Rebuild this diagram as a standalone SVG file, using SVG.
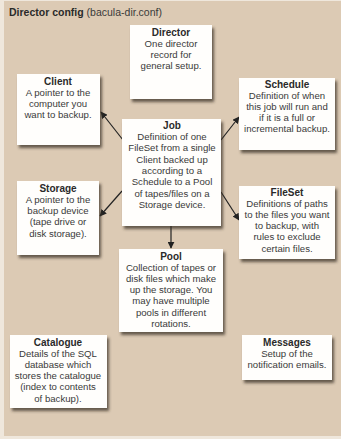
<svg xmlns="http://www.w3.org/2000/svg" width="341" height="439" viewBox="0 0 341 439">
<defs>
<style>
.bg{fill:#dccab4}
.box{fill:#fffefc;filter:url(#sh)}
text{font-family:"Liberation Sans",Arial,sans-serif;fill:#3a3a3a;text-anchor:middle}
.t{font-size:10px;font-weight:bold;fill:#2a2a2a}
.b{font-size:9.6px}
.hdr{text-anchor:start;font-size:10.5px}
.con line{stroke:#222;stroke-width:1.2;marker-end:url(#ah)}
</style>
<filter id="sh" x="-10%" y="-10%" width="130%" height="130%">
<feDropShadow dx="2" dy="3" stdDeviation="1.5" flood-color="#3a3028" flood-opacity="0.75"/>
</filter>
<marker id="ah" viewBox="0 0 10 10" refX="9" refY="5" markerWidth="7" markerHeight="7" markerUnits="userSpaceOnUse" orient="auto">
<path d="M0,0 L10,5 L0,10 z" fill="#222"/>
</marker>
</defs>
<rect x="0" y="0" width="341" height="439" fill="#efe7dc"/>
<rect class="bg" x="4" y="1" width="337" height="435"/>
<text class="hdr" x="9" y="16"><tspan font-weight="bold" fill="#2a2a2a">Director config</tspan> (bacula-dir.conf)</text>

<g class="con">
<line x1="123" y1="140" x2="101" y2="112"/>
<line x1="221" y1="140" x2="239" y2="117"/>
<line x1="122" y1="191" x2="100" y2="216"/>
<line x1="221" y1="192" x2="239" y2="220"/>
<line x1="171" y1="226" x2="171" y2="248"/>
</g>

<g id="director">
<rect class="box" x="130" y="25" width="82" height="74"/>
<text class="t" x="171" y="35.5">Director</text>
<text class="b" x="171" y="46.5">One director</text>
<text class="b" x="171" y="57.5">record for</text>
<text class="b" x="171" y="68.5">general setup.</text>
</g>

<g id="client">
<rect class="box" x="17" y="74" width="83" height="71"/>
<text class="t" x="58" y="84.5">Client</text>
<text class="b" x="58" y="95.5">A pointer to the</text>
<text class="b" x="58" y="106.5">computer you</text>
<text class="b" x="58" y="117.5">want to backup.</text>
</g>

<g id="schedule">
<rect class="box" x="239" y="78" width="96" height="72"/>
<text class="t" x="287" y="87.5">Schedule</text>
<text class="b" x="287" y="99">Definition of when</text>
<text class="b" x="287" y="110">this job will run and</text>
<text class="b" x="287" y="121">if it is a full or</text>
<text class="b" x="287" y="132">incremental backup.</text>
</g>

<g id="job">
<rect class="box" x="122" y="119" width="99" height="107"/>
<text class="t" x="172" y="128.5">Job</text>
<text class="b" x="172" y="140">Definition of one</text>
<text class="b" x="172" y="151.3">FileSet from a single</text>
<text class="b" x="172" y="162.6">Client backed up</text>
<text class="b" x="172" y="173.9">according to a</text>
<text class="b" x="172" y="185.2">Schedule to a Pool</text>
<text class="b" x="172" y="196.5">of tapes/files on a</text>
<text class="b" x="172" y="207.8">Storage device.</text>
</g>

<g id="storage">
<rect class="box" x="17" y="181" width="82" height="74"/>
<text class="t" x="58" y="191.5">Storage</text>
<text class="b" x="58" y="203">A pointer to the</text>
<text class="b" x="58" y="214.2">backup device</text>
<text class="b" x="58" y="225.4">(tape drive or</text>
<text class="b" x="58" y="236.6">disk storage).</text>
</g>

<g id="fileset">
<rect class="box" x="239" y="186" width="96" height="73"/>
<text class="t" x="287" y="195.5">FileSet</text>
<text class="b" x="287" y="206.7">Definitions of paths</text>
<text class="b" x="287" y="217.9">to the files you want</text>
<text class="b" x="287" y="229.1">to backup, with</text>
<text class="b" x="287" y="240.3">rules to exclude</text>
<text class="b" x="287" y="251.5">certain files.</text>
</g>

<g id="pool">
<rect class="box" x="119" y="249" width="104" height="83"/>
<text class="t" x="171" y="259.5">Pool</text>
<text class="b" x="171" y="270.7">Collection of tapes or</text>
<text class="b" x="171" y="281.9">disk files which make</text>
<text class="b" x="171" y="293.1">up the storage. You</text>
<text class="b" x="171" y="304.3">may have multiple</text>
<text class="b" x="171" y="315.5">pools in different</text>
<text class="b" x="171" y="326.7">rotations.</text>
</g>

<g id="catalogue">
<rect class="box" x="10" y="335" width="97" height="73"/>
<text class="t" x="58" y="345.5">Catalogue</text>
<text class="b" x="58" y="356.7">Details of the SQL</text>
<text class="b" x="58" y="367.9">database which</text>
<text class="b" x="58" y="379.1">stores the catalogue</text>
<text class="b" x="58" y="390.3">(index to contents</text>
<text class="b" x="58" y="401.5">of backup).</text>
</g>

<g id="messages">
<rect class="box" x="242" y="335" width="90" height="45"/>
<text class="t" x="287" y="345.5">Messages</text>
<text class="b" x="287" y="356.7">Setup of the</text>
<text class="b" x="287" y="367.9">notification emails.</text>
</g>
</svg>
